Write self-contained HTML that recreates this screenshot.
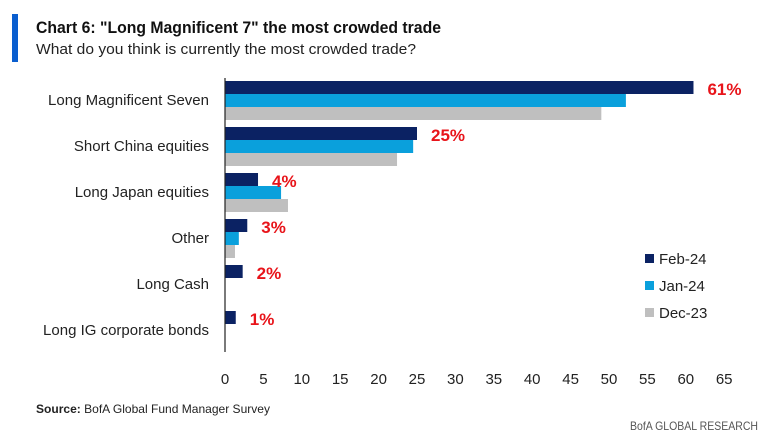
<!DOCTYPE html>
<html><head><meta charset="utf-8"><style>
body{margin:0;width:766px;height:440px;background:#fff;overflow:hidden;font-family:"Liberation Sans Narrow","Liberation Sans",sans-serif;}
svg text{font-family:"Liberation Sans Narrow","Liberation Sans",sans-serif;}
</style></head><body>
<svg width="766" height="440">
<rect x="12" y="14" width="6" height="48" fill="#0a5ecf"/>
<text x="36" y="33" font-size="17" font-weight="bold" fill="#111" textLength="405" lengthAdjust="spacingAndGlyphs">Chart 6: "Long Magnificent 7" the most crowded trade</text>
<text x="36" y="54" font-size="15" fill="#222" textLength="380" lengthAdjust="spacingAndGlyphs">What do you think is currently the most crowded trade?</text>
<g id="plot"></g>
<g>
<rect x="645" y="254" width="9" height="9" fill="#0b2263"/>
<text x="659" y="264" font-size="15" fill="#222">Feb-24</text>
<rect x="645" y="281" width="9" height="9" fill="#0aa0dc"/>
<text x="659" y="291" font-size="15" fill="#222">Jan-24</text>
<rect x="645" y="308" width="9" height="9" fill="#bfbfbf"/>
<text x="659" y="318" font-size="15" fill="#222">Dec-23</text>
</g>
<text x="36" y="413" font-size="12" fill="#222" textLength="234" lengthAdjust="spacingAndGlyphs"><tspan font-weight="bold">Source:</tspan> BofA Global Fund Manager Survey</text>
<text x="758" y="430" font-size="12" fill="#555" text-anchor="end" textLength="128" lengthAdjust="spacingAndGlyphs">BofA GLOBAL RESEARCH</text>
</svg>
<script>
const categories=["Long Magnificent Seven","Short China equities","Long Japan equities","Other","Long Cash","Long IG corporate bonds"];
const feb24=[61,25,4.3,2.9,2.3,1.4];
const jan24=[52.2,24.5,7.3,1.8,0,0];
const dec23=[49,22.4,8.2,1.3,0,0];
const labels=["61%","25%","4%","3%","2%","1%"];
const ticks=[0,5,10,15,20,25,30,35,40,45,50,55,60,65];
const NS="http://www.w3.org/2000/svg";
const g=document.getElementById('plot');
const x0=225,scale=7.68;
const X=v=>x0+v*scale;
const Y=i=>81+i*46;
function el(t,a){const e=document.createElementNS(NS,t);for(const k in a)e.setAttribute(k,a[k]);g.appendChild(e);return e;}
const series=[[feb24,"#0b2263","feb-24"],[jan24,"#0aa0dc","jan-24"],[dec23,"#bfbfbf","dec-23"]];
categories.forEach((c,i)=>{
  series.forEach(([arr,col,nm],j)=>{
    if(arr[i]<=0)return;
    const r=el('rect',{x:x0,y:Y(i)+j*13,width:X(arr[i])-x0,height:13,fill:col});
    
    
  });
  const t=el('text',{x:209,y:Y(i)+24,'font-size':15,fill:'#222','text-anchor':'end'});
  t.textContent=c;
  
  
  const v=el('text',{x:X(feb24[i])+14,y:Y(i)+14,'font-size':17,'font-weight':'bold',fill:'#e8141a'});
  v.textContent=labels[i];
  
  
});
const ax=el('line',{x1:x0,x2:x0,y1:78,y2:352,stroke:'#222','stroke-width':1.2});


ticks.forEach(tk=>{
  const t=el('text',{x:X(tk),y:384,'font-size':15,fill:'#222','text-anchor':'middle'});
  t.textContent=tk;
  
  
});
</script>
</body></html>
